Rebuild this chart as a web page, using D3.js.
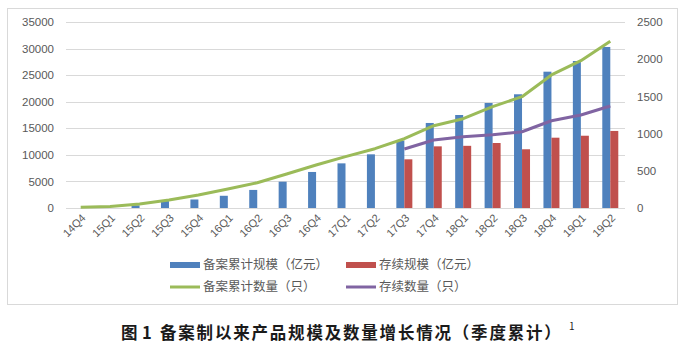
<!DOCTYPE html>
<html>
<head>
<meta charset="utf-8">
<script src="https://cdn.jsdelivr.net/npm/d3@7/dist/d3.min.js"></script>
<style>
  body { margin: 0; background: #fff; }
  svg { display: block; }
</style>
</head>
<body>
<div id="chart"></div>
<script>
// quarterly categories
var quarters = ["14Q4","15Q1","15Q2","15Q3","15Q4","16Q1","16Q2","16Q3","16Q4",
  "17Q1","17Q2","17Q3","17Q4","18Q1","18Q2","18Q3","18Q4","19Q1","19Q2"];

// bars, left axis (亿元)
var scaleTotal = [0, 50, 500, 1300, 1600, 2300, 3400, 4950, 6780, 8400, 10100,
  12670, 16000, 17500, 19760, 21400, 25650, 27660, 30300];
var scaleLive = [null, null, null, null, null, null, null, null, null, null, null,
  9160, 11600, 11700, 12230, 11050, 13230, 13600, 14500];

// lines, right axis (只)
var countTotal = [10, 20, 55, 108, 175, 255, 340, 457, 578, 690, 797,
  931, 1106, 1200, 1362, 1496, 1788, 1980, 2240];
var countLive = [null, null, null, null, null, null, null, null, null, null, null,
  793, 914, 958, 985, 1025, 1173, 1250, 1371];

var leftTicks = [0, 5000, 10000, 15000, 20000, 25000, 30000, 35000];
var rightTicks = [0, 500, 1000, 1500, 2000, 2500];

var width = 686, height = 346;
var plot = {left: 66, right: 625, top: 22, bottom: 208};
var barW = 8;

var svg = d3.select("#chart").append("svg")
  .attr("width", width)
  .attr("height", height);

// chart frame
svg.append("rect")
  .attr("x", 7.5).attr("y", 8.5)
  .attr("width", 670).attr("height", 296)
  .attr("fill", "#fff")
  .attr("stroke", "#d9d9d9");

var x = d3.scaleBand().domain(quarters).range([plot.left, plot.right]).padding(0);
var yL = d3.scaleLinear().domain([0, 35000]).range([plot.bottom, plot.top]);
var yR = d3.scaleLinear().domain([0, 2500]).range([plot.bottom, plot.top]);

function cx(q) { return x(q) + x.bandwidth() / 2; }

// grid lines
svg.append("g").selectAll("line")
  .data(leftTicks)
  .enter().append("line")
  .attr("x1", plot.left).attr("x2", plot.right)
  .attr("y1", function(d) { return Math.round(yL(d)) + 0.5; })
  .attr("y2", function(d) { return Math.round(yL(d)) + 0.5; })
  .attr("stroke", "#d9d9d9")
  .attr("stroke-width", 1);

var axisFont = "'Liberation Sans', 'DejaVu Sans', sans-serif";

// left axis
var leftAxis = svg.append("g")
  .attr("transform", "translate(" + (plot.left - 12) + ",0)")
  .call(d3.axisLeft(yL).tickValues(leftTicks).tickFormat(d3.format("d")).tickSize(0).tickPadding(0));
leftAxis.select(".domain").remove();
leftAxis.selectAll("text")
  .style("font-family", axisFont)
  .style("font-size", "11.5px")
  .attr("fill", "#595959");

// right axis
var rightAxis = svg.append("g")
  .attr("transform", "translate(" + (plot.right + 12) + ",0)")
  .call(d3.axisRight(yR).tickValues(rightTicks).tickFormat(d3.format("d")).tickSize(0).tickPadding(0));
rightAxis.select(".domain").remove();
rightAxis.selectAll("text")
  .style("font-family", axisFont)
  .style("font-size", "11.5px")
  .attr("fill", "#595959");

// category labels, rotated
svg.append("g").selectAll("text")
  .data(quarters)
  .enter().append("text")
  .attr("transform", function(d) { return "translate(" + (cx(d) + 3) + "," + (plot.bottom + 8) + ") rotate(-45)"; })
  .attr("text-anchor", "end")
  .attr("dy", "0.35em")
  .style("font-family", axisFont)
  .style("font-size", "11px")
  .attr("fill", "#595959")
  .text(function(d) { return d; });

// bars
var bars = svg.append("g");
bars.selectAll("rect.total")
  .data(quarters)
  .enter().append("rect")
  .attr("class", "total")
  .attr("x", function(d) { return cx(d) - barW; })
  .attr("y", function(d, i) { return yL(scaleTotal[i]); })
  .attr("width", barW)
  .attr("height", function(d, i) { return plot.bottom - yL(scaleTotal[i]); })
  .attr("fill", "#4f81bd");

bars.selectAll("rect.live")
  .data(quarters.filter(function(d, i) { return scaleLive[i] != null; }))
  .enter().append("rect")
  .attr("class", "live")
  .attr("x", function(d) { return cx(d); })
  .attr("y", function(d) { return yL(scaleLive[quarters.indexOf(d)]); })
  .attr("width", barW)
  .attr("height", function(d) { return plot.bottom - yL(scaleLive[quarters.indexOf(d)]); })
  .attr("fill", "#c0504d");

// baseline
svg.append("line")
  .attr("x1", plot.left).attr("x2", plot.right)
  .attr("y1", plot.bottom + 0.5).attr("y2", plot.bottom + 0.5)
  .attr("stroke", "#d9d9d9");

// lines
var line = d3.line()
  .defined(function(d) { return d.v != null; })
  .x(function(d) { return cx(d.q); })
  .y(function(d) { return yR(d.v); });

function pairs(arr) {
  return quarters.map(function(q, i) { return {q: q, v: arr[i]}; });
}

svg.append("path")
  .datum(pairs(countTotal))
  .attr("d", line)
  .attr("fill", "none")
  .attr("stroke", "#9bbb59")
  .attr("stroke-width", 3)
  .attr("stroke-linejoin", "round");

svg.append("path")
  .datum(pairs(countLive))
  .attr("d", line)
  .attr("fill", "none")
  .attr("stroke", "#8064a2")
  .attr("stroke-width", 3)
  .attr("stroke-linejoin", "round");

// legend
var cjk = "'Noto Sans CJK SC', sans-serif";
var legendItems = [
  {label: "备案累计规模（亿元）", color: "#4f81bd", type: "bar", x: 170, y: 265},
  {label: "存续规模（亿元）", color: "#c0504d", type: "bar", x: 346, y: 265},
  {label: "备案累计数量（只）", color: "#9bbb59", type: "line", x: 170, y: 287},
  {label: "存续数量（只）", color: "#8064a2", type: "line", x: 346, y: 287}
];
var legend = svg.append("g").selectAll("g")
  .data(legendItems)
  .enter().append("g")
  .attr("transform", function(d) { return "translate(" + d.x + "," + d.y + ")"; });

legend.filter(function(d) { return d.type === "bar"; })
  .append("rect")
  .attr("x", 0).attr("y", -3)
  .attr("width", 30).attr("height", 6)
  .attr("fill", function(d) { return d.color; });

legend.filter(function(d) { return d.type === "line"; })
  .append("line")
  .attr("x1", 0).attr("x2", 30)
  .attr("stroke", function(d) { return d.color; })
  .attr("stroke-width", 3);

legend.append("text")
  .attr("x", 33)
  .attr("dy", "0.35em")
  .style("font-family", cjk)
  .style("font-size", "12.5px")
  .attr("fill", "#595959")
  .text(function(d) { return d.label; });

// caption
var title = svg.append("text")
  .attr("y", 339)
  .style("font-family", cjk)
  .style("font-size", "16.5px")
  .style("font-weight", "bold")
  .attr("fill", "#1a1a1a");
title.append("tspan").attr("x", 121).text("图");
title.append("tspan").attr("x", 142).text("1");
title.append("tspan")
  .attr("x", 160)
  .style("letter-spacing", "1.8px")
  .text("备案制以来产品规模及数量增长情况（季度累计）");
title.append("tspan")
  .attr("x", 569)
  .attr("dy", -9)
  .style("font-size", "10px")
  .style("font-weight", "normal")
  .text("1");
</script>
</body>
</html>
